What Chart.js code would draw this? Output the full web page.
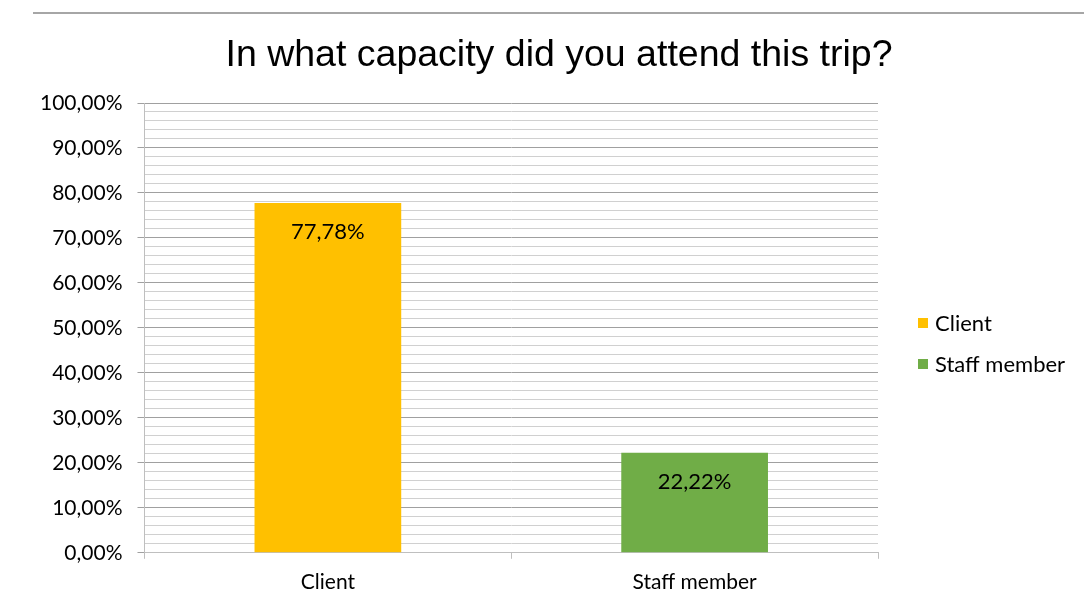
<!DOCTYPE html>
<html>
<head>
<meta charset="utf-8">
<script src="https://cdn.jsdelivr.net/npm/chart.js@4/dist/chart.umd.min.js"></script>
<style>
  html, body { margin: 0; padding: 0; background: #ffffff; }
  #wrap { position: relative; width: 1084px; height: 600px; }
  #topline { position: absolute; left: 33px; right: 0; top: 12px; height: 2px; background: #a6a6a6; }
  canvas { position: absolute; left: 0; top: 0; }
</style>
</head>
<body>
<div id="wrap">
  <canvas id="c" width="1084" height="600"></canvas>
  <div id="topline"></div>
</div>
<script>
const categories = ['Client', 'Staff member'];
const values = [77.78, 22.22];
const barColors = ['#FFC000', '#70AD47'];
const titleText = 'In what capacity did you attend this trip?';
const yMin = 0, yMax = 100, yMinorStep = 2, yMajorStep = 10;

const fmt = v => v.toFixed(2).replace('.', ',') + '%';
const bodyFont = 'Lato';
const tickSize = 21;
const labelSize = 22;

const chartTitle = {
  id: 'chartTitle',
  afterDraw(chart) {
    const ctx = chart.ctx;
    ctx.save();
    ctx.font = '37.5px "Liberation Sans"';
    ctx.fillStyle = '#000000';
    ctx.textAlign = 'center';
    ctx.textBaseline = 'alphabetic';
    ctx.fillText(titleText, 559, 66);
    ctx.restore();
  }
};

const valueLabels = {
  id: 'valueLabels',
  afterDatasetsDraw(chart) {
    const ctx = chart.ctx;
    const meta = chart.getDatasetMeta(0);
    ctx.save();
    ctx.font = labelSize + 'px ' + bodyFont;
    ctx.fillStyle = '#000000';
    ctx.textAlign = 'center';
    ctx.textBaseline = 'middle';
    meta.data.forEach((bar, i) => {
      ctx.fillText(fmt(values[i]), bar.x, bar.y + 29);
    });
    ctx.restore();
  }
};

const sideLegend = {
  id: 'sideLegend',
  afterDraw(chart) {
    const ctx = chart.ctx;
    const x = chart.chartArea.right + 40;
    const ys = [323, 364];
    ctx.save();
    ctx.font = labelSize + 'px ' + bodyFont;
    ctx.textBaseline = 'middle';
    ctx.textAlign = 'left';
    categories.forEach((c, i) => {
      ctx.fillStyle = barColors[i];
      ctx.fillRect(x, ys[i] - 5, 10, 10);
      ctx.fillStyle = '#000000';
      ctx.fillText(c, x + 17, ys[i] + 1);
    });
    ctx.restore();
  }
};

new Chart(document.getElementById('c'), {
  type: 'bar',
  data: {
    labels: categories,
    datasets: [{
      label: 'Share',
      data: values,
      backgroundColor: barColors,
      borderWidth: 0,
      barPercentage: 0.4,
      categoryPercentage: 1.0
    }]
  },
  options: {
    responsive: false,
    animation: false,
    layout: { padding: { left: 25, right: 206, top: 103, bottom: -6 } },
    plugins: {
      legend: { display: false },
      tooltip: { enabled: false },
      title: { display: false }
    },
    scales: {
      x: {
        grid: {
          offset: true,
          drawOnChartArea: false,
          drawTicks: true,
          tickLength: 6,
          color: '#bfbfbf'
        },
        border: { color: '#bfbfbf', width: 1 },
        ticks: {
          color: '#000000',
          font: { family: bodyFont, size: tickSize },
          padding: 11
        }
      },
      y: {
        min: yMin,
        max: yMax,
        grid: {
          color: ctx => (ctx.tick && ctx.tick.value % yMajorStep === 0) ? '#a0a0a0' : '#d0d0d0',
          tickColor: ctx => (ctx.tick && ctx.tick.value % yMajorStep === 0) ? '#a0a0a0' : 'rgba(0,0,0,0)',
          tickLength: 7,
          lineWidth: 1
        },
        border: { color: '#bfbfbf', width: 1 },
        ticks: {
          stepSize: yMinorStep,
          autoSkip: false,
          color: '#000000',
          font: { family: bodyFont, size: tickSize },
          padding: 15,
          callback: v => (v % yMajorStep === 0) ? fmt(v) : ''
        }
      }
    }
  },
  plugins: [chartTitle, valueLabels, sideLegend]
});
</script>
</body>
</html>
